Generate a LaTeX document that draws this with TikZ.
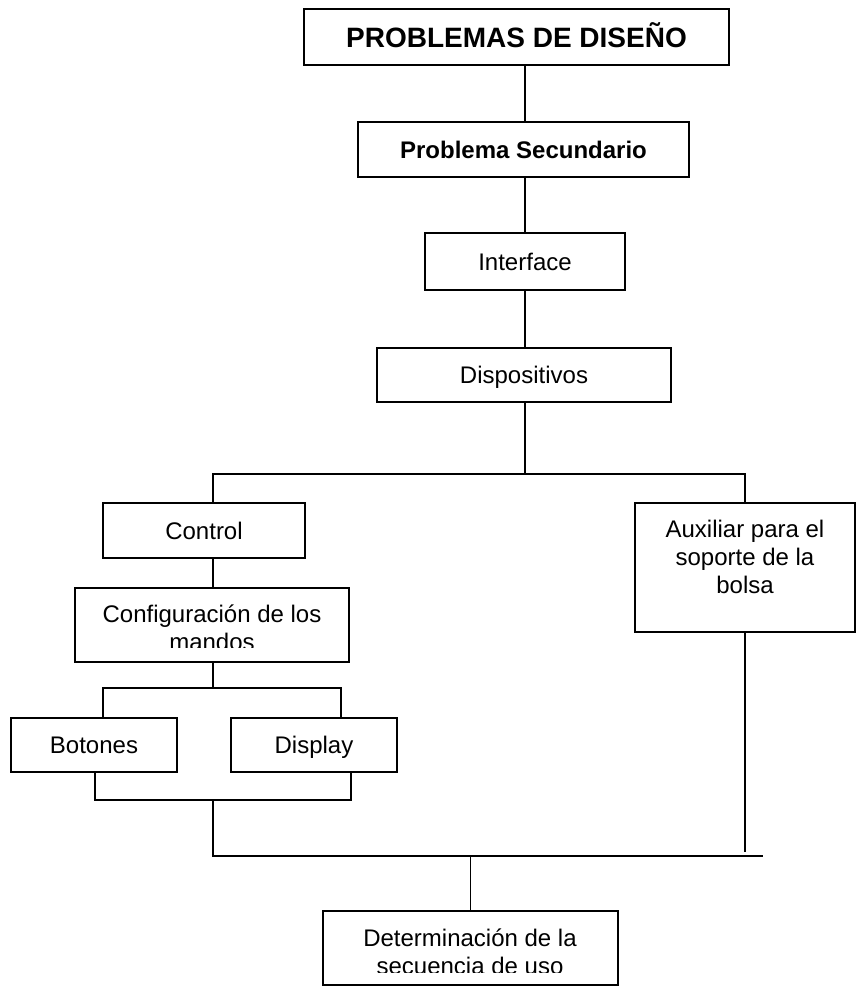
\documentclass[tikz,border=0pt]{standalone}
\usepackage{fontspec}
\setmainfont{Liberation Sans}
\usetikzlibrary{positioning}

\begin{document}
\begin{tikzpicture}[
    x=0.5pt, y=-0.5pt,
    % Plain boxes with a thin black frame
    itembox/.style={
        rectangle,
        draw=black,
        line width=0.75pt,
        fill=white,
        inner sep=0pt,
        font=\fontsize{12}{14}\selectfont,
        text height=8.6pt,
        text depth=0pt
    },
    titlebox/.style={
        itembox,
        font=\fontsize{14}{17}\selectfont\bfseries,
        text height=10pt
    },
    subbox/.style={
        itembox,
        font=\fontsize{12}{14}\selectfont\bfseries
    },
    multitext/.style={
        anchor=base,
        align=center,
        inner sep=0pt,
        font=\fontsize{12}{14}\selectfont
    },
    link/.style={
        line width=0.75pt,
        black
    }
]

\useasboundingbox (0,0) rectangle (857,986);

% === Main chain ===
\node[titlebox, minimum width=212.5pt, minimum height=28pt] (diseno) at (516.5,37) {PROBLEMAS DE DISEÑO};
\node[subbox, minimum width=165.5pt, minimum height=27.5pt] (secundario) at (523.5,149.5) {Problema Secundario};
\node[itembox, minimum width=100pt, minimum height=28.5pt] (interface) at (525,261.5) {Interface};
\node[itembox, minimum width=147pt, minimum height=27pt] (dispositivos) at (524,375) {Dispositivos};

% === Left branch ===
\node[itembox, minimum width=101pt, minimum height=27.5pt] (control) at (204,530.5) {Control};
\node[itembox, minimum width=137pt, minimum height=37pt] (configuracion) at (212,625) {};
\begin{scope}
    \clip (configuracion.north west) rectangle ([yshift=7.5pt]configuracion.south east);
    \node[multitext] (configtxt) at (212,650) {Configuración de los\\mandos};
\end{scope}
\node[itembox, minimum width=83pt, minimum height=27pt] (botones) at (94,745) {Botones};
\node[itembox, minimum width=83pt, minimum height=27pt] (display) at (314,745) {Display};

% === Right branch ===
\node[itembox, minimum width=110pt, minimum height=64.5pt] (auxiliar) at (745,567.5) {};
\node[multitext] (auxtxt) at (745,593) {Auxiliar para el\\soporte de la\\bolsa};

% === Bottom ===
\node[itembox, minimum width=147.5pt, minimum height=37pt] (determinacion) at (470.5,948) {};
\begin{scope}
    \clip (determinacion.north west) rectangle ([yshift=6.5pt]determinacion.south east);
    \node[multitext] (dettxt) at (470,974) {Determinación de la\\secuencia de uso};
\end{scope}

% === Connectors ===
\coordinate (splitL) at (213,474);
\coordinate (splitR) at (745,474);
\coordinate (mandosL) at (103,688);
\coordinate (mandosR) at (341,688);
\coordinate (joinL) at (95,800);
\coordinate (joinR) at (351,800);
\coordinate (baseL) at (213,856);
\coordinate (baseR) at (763,856);
\coordinate (auxend) at (745,852);

\draw[link] (diseno.south -| interface) -- (secundario.north -| interface);
\draw[link] (secundario.south -| interface) -- (interface.north);
\draw[link] (interface.south) -- (dispositivos.north -| interface);
\draw[link] (dispositivos.south -| interface) -- (splitL -| interface);
\draw[link] (control.north -| splitL) -- (splitL) -- (splitR) -- (auxiliar.north);
\draw[link] (control.south -| splitL) -- (configuracion.north -| splitL);
\draw[link] (configuracion.south -| splitL) -- (splitL |- mandosL);
\draw[link] (botones.north -| mandosL) -- (mandosL) -- (mandosR) -- (display.north -| mandosR);
\draw[link] (botones.south -| joinL) -- (joinL) -- (joinR) -- (display.south -| joinR);
\draw[link] (splitL |- joinL) -- (baseL) -- (baseR);
\draw[link] (auxiliar.south) -- (auxend);
\draw[link] (determinacion.north) -- (determinacion.north |- baseL);

\end{tikzpicture}
\end{document}
